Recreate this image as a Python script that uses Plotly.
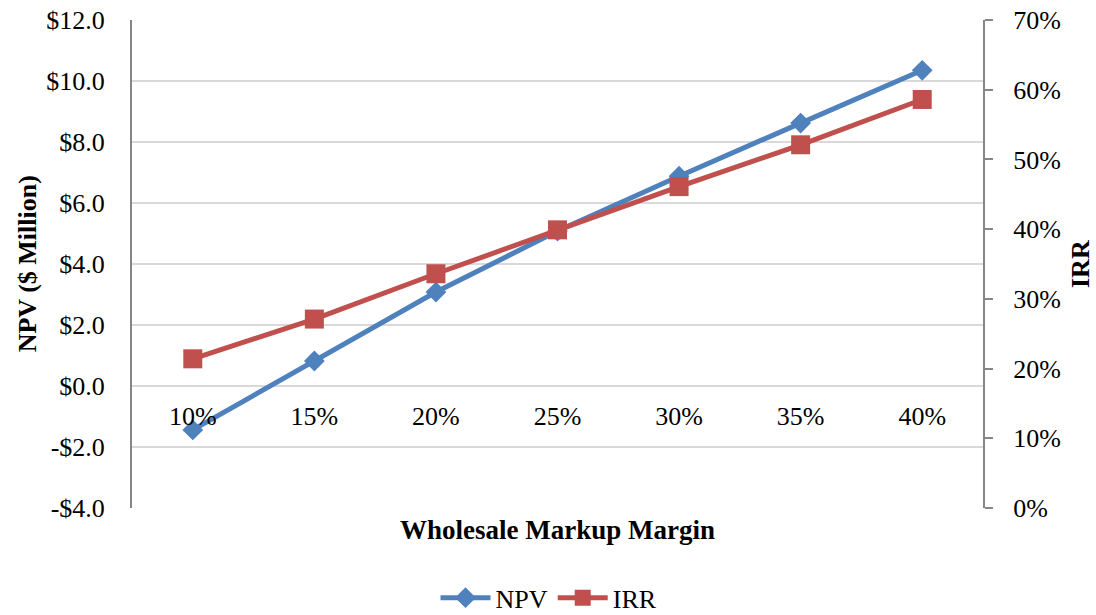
import plotly.graph_objects as go

categories = ["10%", "15%", "20%", "25%", "30%", "35%", "40%"]
npv = [-1.44, 0.82, 3.08, 5.08, 6.88, 8.62, 10.35]
irr = [0.214, 0.271, 0.336, 0.399, 0.461, 0.521, 0.586]

npv_ticks = [-4, -2, 0, 2, 4, 6, 8, 10, 12]
npv_tick_labels = ["-$4.0", "-$2.0", "$0.0", "$2.0", "$4.0", "$6.0", "$8.0", "$10.0", "$12.0"]

FONT = "Liberation Serif, Times New Roman, serif"
BLUE = "#4F81BD"
RED = "#C0504D"
AXIS = "#868686"
GRID = "#D9D9D9"

fig = go.Figure()
fig.add_trace(go.Scatter(
    x=categories, y=npv, name="NPV", mode="lines+markers",
    line=dict(color=BLUE, width=5),
    marker=dict(symbol="diamond", size=16, color=BLUE),
    yaxis="y", cliponaxis=False,
))
fig.add_trace(go.Scatter(
    x=categories, y=irr, name="IRR", mode="lines+markers",
    line=dict(color=RED, width=5),
    marker=dict(symbol="square", size=19, color=RED),
    yaxis="y2", cliponaxis=False,
))

fig.update_layout(
    width=1096, height=615,
    margin=dict(l=132, r=113, t=20, b=107, autoexpand=False),
    paper_bgcolor="white", plot_bgcolor="white",
    font=dict(family=FONT, size=26, color="black"),
    showlegend=True,
    legend=dict(orientation="h", x=0.49, xanchor="center", y=-0.184, yanchor="middle",
                font=dict(size=26), itemwidth=50, traceorder="normal"),
    xaxis=dict(type="category", range=[-0.5, 6.5], anchor="free", position=0.25,
               showgrid=False, showline=False, ticks="", zeroline=False, automargin=False,
               ticklabelstandoff=12, tickfont=dict(size=26)),
    yaxis=dict(range=[-4, 12], tickvals=npv_ticks, ticktext=npv_tick_labels,
               showgrid=True, gridcolor=GRID, gridwidth=1.5, zeroline=False, automargin=False,
               showline=True, linecolor=AXIS, linewidth=2, ticks="",
               ticklabelstandoff=20, tickfont=dict(size=26)),
    yaxis2=dict(range=[0, 0.7], dtick=0.1, tickformat=".0%", overlaying="y", side="right",
                showgrid=False, zeroline=False, showline=True, linecolor=AXIS, linewidth=2,
                ticks="outside", ticklen=8, tickcolor=AXIS, tickwidth=2, automargin=False,
                ticklabelstandoff=15, tickfont=dict(size=26)),
    annotations=[
        dict(text="<b>Wholesale Markup Margin</b>", x=0.5, y=-0.045, xref="paper", yref="paper",
             xanchor="center", yanchor="middle", showarrow=False, font=dict(size=27)),
        dict(text="<b>NPV ($ Million)</b>", x=-0.123, y=0.5, xref="paper", yref="paper",
             xanchor="center", yanchor="middle", textangle=-90, showarrow=False, font=dict(size=26)),
        dict(text="<b>IRR</b>", x=1.114, y=0.5, xref="paper", yref="paper",
             xanchor="center", yanchor="middle", textangle=-90, showarrow=False, font=dict(size=26)),
    ],
)

fig.write_html("out.html", config={"displayModeBar": False},
               post_script="document.body.style.margin='0';document.body.style.overflow='hidden';")
